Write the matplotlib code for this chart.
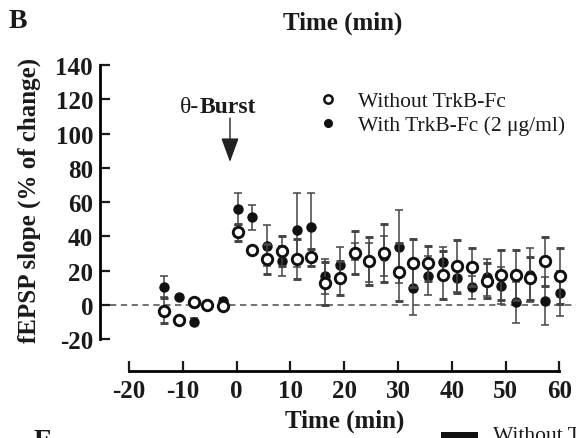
from matplotlib import pyplot as plt
from matplotlib.lines import Line2D
from matplotlib.patches import Rectangle

"""fEPSP slope after theta-burst, with and without TrkB-Fc (panel B)."""

plt.rcParams['font.family'] = ['Liberation Serif', 'DejaVu Serif']
plt.rcParams['axes.unicode_minus'] = False

time_min = [-13.5, -10.7, -7.9, -5.5, -2.5,
            0.2, 2.9, 5.6, 8.4, 11.2, 13.8, 16.5, 19.2, 21.9, 24.6, 27.4, 30.2,
            32.8, 35.6, 38.3, 41.0, 43.7, 46.5, 49.1, 51.9, 54.6, 57.4, 60.1]

without_mean = [-3.3, -8.7, 1.6, 0.0, -0.4,
                42.4, 32.3, 26.8, 31.3, 26.8, 27.8, 12.6, 15.9, 30.5, 25.5, 30.3, 19.4,
                24.3, 24.3, 17.7, 22.5, 22.0, 14.2, 17.5, 17.5, 15.5, 25.5, 16.7]
without_sem = [7.4, 1.5, 2.0, 1.5, 1.5,
               5.0, 1.5, 9.0, 8.7, 11.6, 5.0, 12.6, 10.0, 12.6, 14.0, 17.0, 17.0,
               14.0, 10.3, 14.0, 15.6, 11.2, 10.0, 14.6, 14.6, 12.4, 14.3, 16.3]

with_mean = [10.7, 4.5, -9.7, 0.3, 2.5,
             56.0, 51.1, 34.6, 25.8, 43.7, 45.7, 16.7, 23.3, 31.1, 24.9, 28.4, 34.0,
             9.9, 17.1, 25.3, 15.7, 10.3, 16.1, 11.3, 1.6, 17.5, 2.5, 6.8]
with_sem = [6.0, 1.0, 2.0, 1.5, 1.5,
            9.3, 7.2, 12.0, 8.7, 21.4, 19.6, 10.0, 10.3, 5.0, 11.5, 11.6, 21.4,
            15.7, 11.5, 8.3, 8.3, 6.8, 11.0, 10.7, 12.0, 15.5, 14.0, 13.0]

y_ticks = [-20, 0, 20, 40, 60, 80, 100, 120, 140]
x_ticks = [-20, -10, 0, 10, 20, 30, 40, 50, 60]

txt = '#1a1a1a'
W, H = 576, 439

fig = plt.figure(figsize=(5.76, 4.39), dpi=100)
# axes placed in pixels so the spines land where the figure had them
ax = fig.add_axes([100 / W, (H - 340.3) / H, 476 / W, 274.4 / H])
ax.set_xlim(-25.41, 63.07)
ax.set_ylim(-20, 140)

ax.axhline(0, xmin=10 / 476, color='#666666', lw=1.3, dashes=(3.5, 2.5), zorder=1)

ax.errorbar(time_min, with_mean, yerr=with_sem, fmt='o', color='#111111',
            ms=6.5, ecolor='#444444', elinewidth=1.1, capsize=3.0, capthick=1.1,
            zorder=3, clip_on=False)
ax.errorbar(time_min, without_mean, yerr=without_sem, fmt='o', color='#111111',
            mfc='white', mec='#111111', mew=2.1, ms=7.5, ecolor='#444444',
            elinewidth=1.1, capsize=3.0, capthick=1.1, zorder=4, clip_on=False)

for s in ['top', 'right']:
    ax.spines[s].set_visible(False)
ax.spines['left'].set_linewidth(2.0)
ax.spines['bottom'].set_linewidth(2.0)
ax.spines['bottom'].set_position(('outward', 22.6))
ax.spines['bottom'].set_bounds(-20, 60)

ax.set_xticks(x_ticks)
ax.set_yticks(y_ticks)
ax.tick_params(direction='in', length=7, width=1.6, labelsize=18, colors=txt)
ax.tick_params(axis='y', pad=5)
ax.tick_params(axis='x', pad=6)
for lab in ax.get_xticklabels() + ax.get_yticklabels():
    lab.set_fontweight('bold')

# theta-burst marker
ax.annotate('', xy=(-1.25, 83.4), xytext=(-1.25, 109),
            arrowprops=dict(arrowstyle='-|>,head_length=1.5,head_width=0.55',
                            color='#222222', lw=1.0, shrinkA=0, shrinkB=0))
ax.text(-6.9, 116, 'θ-', ha='right', va='center', fontsize=17, color=txt)
ax.text(-6.9, 116, 'Burst', ha='left', va='center', fontsize=17,
        fontweight='bold', color=txt)

handles = [
    Line2D([0], [0], marker='o', ls='none', mfc='white', mec='#111111',
           mew=1.8, ms=6, label='Without TrkB-Fc'),
    Line2D([0], [0], marker='o', ls='none', color='#111111', ms=5.5,
           label='With TrkB-Fc (2 μg/ml)'),
]
leg = ax.legend(handles=handles, loc='upper left', frameon=False,
                bbox_to_anchor=(317.5 / W, 1 - 92 / H), bbox_transform=fig.transFigure,
                borderaxespad=0, borderpad=0, handlelength=1.0, handletextpad=0.9,
                labelspacing=0.2, fontsize=15.5)
for t in leg.get_texts():
    t.set_color(txt)

# labels and panel letters
fig.text(343 / W, 1 - 23 / H, 'Time (min)', ha='center', va='center',
         fontsize=18, fontweight='bold', color=txt)
fig.text(17.5 / W, 1 - 22 / H, 'B', ha='center', va='center',
         fontsize=20, fontweight='bold', color=txt)
fig.text(29 / W, 1 - 200 / H, 'fEPSP slope (% of change)', rotation=90,
         ha='center', va='center', fontsize=18, fontweight='bold', color=txt)

# top of the next panel, cut by the crop
fig.text(345 / W, 1 - 421 / H, 'Time (min)', ha='center', va='center',
         fontsize=18, fontweight='bold', color=txt)
fig.text(43 / W, 1 - 429 / H, 'E', ha='center', va='top',
         fontsize=20, fontweight='bold', color=txt)
fig.patches.append(Rectangle((441 / W, 0), 37 / W, 6 / H, transform=fig.transFigure,
                             facecolor='#111111', edgecolor='none'))
fig.text(493 / W, 1 - 427 / H, 'Without TrkB-Fc', ha='left', va='top',
         fontsize=15.5, color=txt)

fig.savefig('out.png', dpi=100)
